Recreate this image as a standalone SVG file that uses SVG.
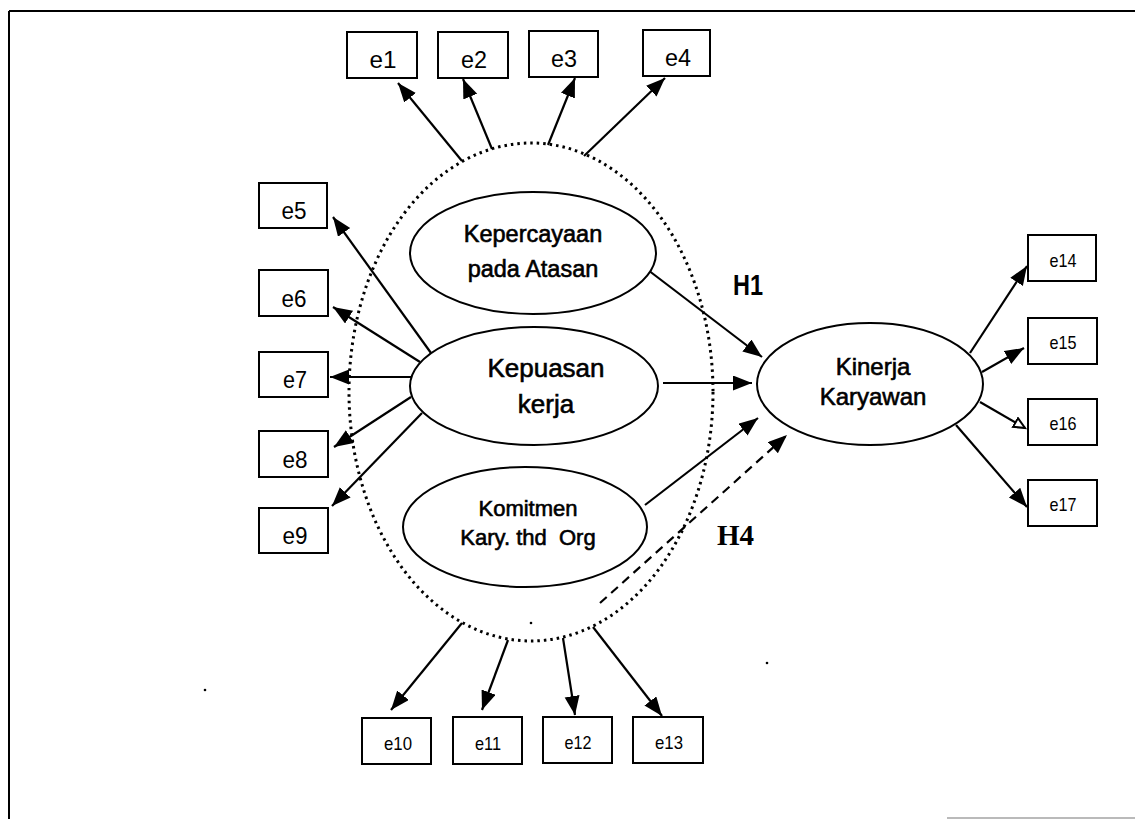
<svg xmlns="http://www.w3.org/2000/svg" width="1135" height="819" viewBox="0 0 1135 819">
<style>
.box{fill:#fff;stroke:#000;stroke-width:2}
.lat{fill:#fff;stroke:#000;stroke-width:2}
.t{font-family:"Liberation Sans",Arial,sans-serif;fill:#000;text-anchor:middle}
.bold{stroke:#000;stroke-width:0.6}
.lbl{font-size:23px}
.lbl2{font-size:18.5px}
.conn{stroke:#000;stroke-width:2.2;fill:none}
.dash{stroke-dasharray:9 6}
</style>
<defs>
<marker id="ah" markerUnits="userSpaceOnUse" markerWidth="22" markerHeight="18" refX="19" refY="7.5" orient="auto">
<path d="M0,0 L19,7.5 L0,15 Z" fill="#000"/>
</marker>
<marker id="ahOpen" markerUnits="userSpaceOnUse" markerWidth="16" markerHeight="14" refX="12" refY="6" orient="auto">
<path d="M1,1 L12,6 L1,11 Z" fill="#fff" stroke="#000" stroke-width="2"/>
</marker>
</defs>
<rect width="1135" height="819" fill="#fff"/>
<g id="frame" fill="none" stroke="#000">
<line x1="9" y1="11" x2="1135" y2="11" stroke-width="2"/>
<line x1="9" y1="11" x2="9" y2="819" stroke-width="2"/>
<line x1="947" y1="818" x2="1135" y2="818" stroke-width="1.2" stroke="#777"/>
</g>
<g id="group-outline">
<ellipse cx="531" cy="392" rx="182" ry="249" fill="none" stroke="#000" stroke-width="3" stroke-dasharray="2.5 4"/>
</g>
<g id="connectors">
<line class="conn" x1="462" y1="161" x2="398" y2="83" marker-end="url(#ah)"/>
<line class="conn" x1="492" y1="149" x2="463" y2="79" marker-end="url(#ah)"/>
<line class="conn" x1="548" y1="145" x2="575" y2="78" marker-end="url(#ah)"/>
<line class="conn" x1="584" y1="156" x2="665" y2="78" marker-end="url(#ah)"/>
<line class="conn" x1="431" y1="353" x2="333" y2="217" marker-end="url(#ah)"/>
<line class="conn" x1="420" y1="362" x2="333" y2="307" marker-end="url(#ah)"/>
<line class="conn" x1="411" y1="377" x2="330" y2="377" marker-end="url(#ah)"/>
<line class="conn" x1="411" y1="397" x2="334" y2="447" marker-end="url(#ah)"/>
<line class="conn" x1="422" y1="413" x2="332" y2="506" marker-end="url(#ah)"/>
<line class="conn" x1="970" y1="353" x2="1027" y2="266" marker-end="url(#ah)"/>
<line class="conn" x1="982" y1="372" x2="1024" y2="348" marker-end="url(#ah)"/>
<line class="conn" x1="980" y1="402" x2="1025" y2="428" marker-end="url(#ahOpen)"/>
<line class="conn" x1="956" y1="425" x2="1027" y2="507" marker-end="url(#ah)"/>
<line class="conn" x1="462" y1="623" x2="391" y2="710" marker-end="url(#ah)"/>
<line class="conn" x1="508" y1="640" x2="482" y2="710" marker-end="url(#ah)"/>
<line class="conn" x1="563" y1="638" x2="575" y2="715" marker-end="url(#ah)"/>
<line class="conn" x1="593" y1="627" x2="662" y2="716" marker-end="url(#ah)"/>
<line class="conn" x1="648" y1="270" x2="762" y2="357" marker-end="url(#ah)"/>
<line class="conn" x1="663" y1="383" x2="752" y2="383" marker-end="url(#ah)"/>
<line class="conn" x1="645" y1="505" x2="758" y2="418" marker-end="url(#ah)"/>
<line class="conn dash" x1="600" y1="603" x2="787" y2="435" marker-end="url(#ah)"/>
</g>
<g id="n-kepercayaan">
<ellipse class="lat" cx="533" cy="253" rx="123" ry="61"/>
<text class="t bold" x="533" y="242" font-size="23.5">Kepercayaan</text>
<text class="t bold" x="533" y="277" font-size="23.5">pada Atasan</text>
</g>
<g id="n-kepuasan">
<ellipse class="lat" cx="534" cy="386" rx="124" ry="59"/>
<text class="t bold" x="546" y="377" font-size="26">Kepuasan</text>
<text class="t bold" x="546" y="413" font-size="26">kerja</text>
</g>
<g id="n-komitmen">
<ellipse class="lat" cx="525" cy="527" rx="122" ry="60"/>
<text class="t bold" x="528" y="516" font-size="22">Komitmen</text>
<text class="t bold" x="528" y="545" font-size="22" xml:space="preserve">Kary. thd  Org</text>
</g>
<g id="n-kinerja">
<ellipse class="lat" cx="870" cy="384" rx="113" ry="61"/>
<text class="t bold" x="873" y="375" font-size="24">Kinerja</text>
<text class="t bold" x="873" y="405" font-size="24">Karyawan</text>
</g>
<g id="n-e1"><rect class="box" x="347" y="32" width="70" height="46"/><text class="t lbl" x="383" y="68" textLength="27" lengthAdjust="spacingAndGlyphs">e1</text></g>
<g id="n-e2"><rect class="box" x="438" y="32" width="70" height="46"/><text class="t lbl" x="474" y="68" textLength="26" lengthAdjust="spacingAndGlyphs">e2</text></g>
<g id="n-e3"><rect class="box" x="529" y="31" width="69" height="46"/><text class="t lbl" x="564" y="67" textLength="26" lengthAdjust="spacingAndGlyphs">e3</text></g>
<g id="n-e4"><rect class="box" x="643" y="30" width="67" height="46"/><text class="t lbl" x="678" y="66" textLength="26" lengthAdjust="spacingAndGlyphs">e4</text></g>
<g id="n-e5"><rect class="box" x="259" y="183" width="68" height="45"/><text class="t lbl" x="294" y="219" textLength="25" lengthAdjust="spacingAndGlyphs">e5</text></g>
<g id="n-e6"><rect class="box" x="259" y="270" width="69" height="46"/><text class="t lbl" x="294" y="307" textLength="25" lengthAdjust="spacingAndGlyphs">e6</text></g>
<g id="n-e7"><rect class="box" x="259" y="352" width="69" height="45"/><text class="t lbl" x="295" y="388" textLength="24" lengthAdjust="spacingAndGlyphs">e7</text></g>
<g id="n-e8"><rect class="box" x="259" y="431" width="69" height="46"/><text class="t lbl" x="295" y="468" textLength="25" lengthAdjust="spacingAndGlyphs">e8</text></g>
<g id="n-e9"><rect class="box" x="259" y="508" width="69" height="45"/><text class="t lbl" x="295" y="544" textLength="25" lengthAdjust="spacingAndGlyphs">e9</text></g>
<g id="n-e14"><rect class="box" x="1028" y="235" width="68" height="46"/><text class="t lbl2" x="1063" y="267" textLength="27" lengthAdjust="spacingAndGlyphs">e14</text></g>
<g id="n-e15"><rect class="box" x="1028" y="318" width="69" height="46"/><text class="t lbl2" x="1063" y="349" textLength="27" lengthAdjust="spacingAndGlyphs">e15</text></g>
<g id="n-e16"><rect class="box" x="1028" y="399" width="69" height="46"/><text class="t lbl2" x="1063" y="430" textLength="27" lengthAdjust="spacingAndGlyphs">e16</text></g>
<g id="n-e17"><rect class="box" x="1028" y="480" width="69" height="46"/><text class="t lbl2" x="1063" y="511" textLength="27" lengthAdjust="spacingAndGlyphs">e17</text></g>
<g id="n-e10"><rect class="box" x="362" y="718" width="69" height="46"/><text class="t lbl2" x="398" y="750" textLength="28" lengthAdjust="spacingAndGlyphs">e10</text></g>
<g id="n-e11"><rect class="box" x="453" y="717" width="69" height="47"/><text class="t lbl2" x="488" y="750" textLength="26" lengthAdjust="spacingAndGlyphs">e11</text></g>
<g id="n-e12"><rect class="box" x="543" y="717" width="69" height="46"/><text class="t lbl2" x="578" y="749" textLength="27" lengthAdjust="spacingAndGlyphs">e12</text></g>
<g id="n-e13"><rect class="box" x="633" y="717" width="70" height="46"/><text class="t lbl2" x="669" y="749" textLength="28" lengthAdjust="spacingAndGlyphs">e13</text></g>
<g id="labels">
<text x="733" y="295" font-family="'Liberation Sans',Arial,sans-serif" font-weight="bold" font-size="29" textLength="30" lengthAdjust="spacingAndGlyphs">H1</text>
<text x="717" y="545" font-family="'Liberation Serif','Times New Roman',serif" font-weight="bold" font-size="29">H4</text>
</g>
<g id="specks" fill="#000">
<circle cx="531" cy="623" r="1.3"/>
<circle cx="767" cy="663" r="1.3"/>
<circle cx="205" cy="690" r="1.3"/>
</g>
</svg>
